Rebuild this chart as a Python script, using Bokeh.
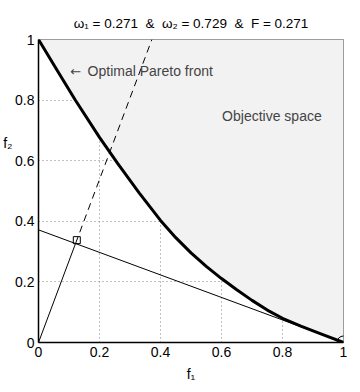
import numpy as np
from bokeh.plotting import figure
from bokeh.models import Range1d, FixedTicker, Title, LinearAxis, Label
from bokeh.embed import file_html
from bokeh.resources import INLINE

# ---- data ----
w1 = 0.271
w2 = 0.729
F = 0.271

front_f1 = [0.0, 0.06, 0.12, 0.2, 0.26, 0.33, 0.4, 0.45, 0.5, 0.55, 0.6, 0.65, 0.7, 0.75, 0.8, 0.86, 0.93, 1.0]
front_f2 = [1.0, 0.90, 0.801, 0.677, 0.59, 0.494, 0.403, 0.346, 0.296, 0.251, 0.211, 0.174, 0.139, 0.107, 0.08, 0.054, 0.027, 0.0]

tick_values = [0, 0.2, 0.4, 0.6, 0.8, 1]
tick_labels = ["0", "0.2", "0.4", "0.6", "0.8", "1"]

FONT = "Liberation Sans"
FS = "14px"
SP = "\u00a0\u00a0"

p = figure(width=352, height=384, output_backend="svg", toolbar_location=None,
           x_range=Range1d(0, 1), y_range=Range1d(0, 1),
           min_border_left=37, min_border_top=39, min_border_right=9, min_border_bottom=39)

p.title = Title(text=f"ω₁ = {w1:.3f}{SP}&{SP}ω₂ = {w2:.3f}{SP}&{SP}F = {F:.3f}",
                align="center", text_font=FONT, text_font_size="13.5px",
                text_font_style="normal", text_color="black", standoff=17)

p.background_fill_color = "white"
p.border_fill_color = "white"
p.outline_line_color = "#808080"
p.outline_line_width = 1

for ax in (p.xaxis[0], p.yaxis[0]):
    ax.ticker = FixedTicker(ticks=tick_values)
    ax.major_label_overrides = {v: l for v, l in zip(tick_values, tick_labels)}
    ax.minor_tick_line_color = None
    ax.major_tick_in = 0
    ax.major_tick_out = 0
    ax.axis_line_color = "black"
    ax.axis_line_width = 1.5
    ax.major_label_text_font = FONT
    ax.major_label_text_font_size = FS
    ax.major_label_text_color = "black"
    ax.major_label_standoff = 4

p.xaxis.axis_label = "f₁"
p.xaxis.axis_label_text_font = FONT
p.xaxis.axis_label_text_font_size = FS
p.xaxis.axis_label_text_font_style = "normal"
p.xaxis.axis_label_text_color = "black"
p.xaxis.axis_label_standoff = 6

# y label: an extra, otherwise empty left axis holding a horizontal label
# (trailing blank lines lift it above the middle, as in the reference)
ylab = LinearAxis(ticker=FixedTicker(ticks=[]),
                  axis_line_color=None, major_tick_line_color=None, minor_tick_line_color=None,
                  major_tick_out=0, major_tick_in=0, major_label_standoff=0,
                  axis_label="f₂" + "\n\u00a0" * 5, axis_label_text_font=FONT,
                  axis_label_text_font_size=FS, axis_label_text_font_style="normal",
                  axis_label_text_color="black", axis_label_standoff=0)
try:
    ylab.axis_label_orientation = "horizontal"
except Exception:
    pass
p.add_layout(ylab, "left")

for g in (p.xgrid[0], p.ygrid[0]):
    g.ticker = FixedTicker(ticks=tick_values[1:-1])
    g.grid_line_color = "#808080"
    g.grid_line_dash = "1 3"
    g.grid_line_width = 1

# objective space (above the front)
px = list(front_f1) + [1.0]
py = list(front_f2) + [1.0]
p.patch(px, py, fill_color="#f2f2f2", line_color=None)

# weighted-sum line  w1*f1 + w2*f2 = F
lx = np.array([0.0, 1.0])
ly = (F - w1 * lx) / w2
p.line(lx, ly, line_color="black", line_width=1)

# ray along weight vector
n2 = w1 ** 2 + w2 ** 2
foot = np.array([w1 * F / n2, w2 * F / n2])
top = np.array([w1 / w2, 1.0])
p.line([0, foot[0]], [0, foot[1]], line_color="black", line_width=1)
p.line([foot[0], top[0]], [foot[1], top[1]], line_color="black", line_width=1, line_dash="7 5")

# right angle marker
u = np.array([w1, w2]) / np.sqrt(n2)
sq = foot + 0.012 * u
p.scatter([sq[0]], [sq[1]], marker="square", size=7, fill_color=None,
          line_color="black", line_width=1)

# Pareto front
p.line(front_f1, front_f2, line_color="black", line_width=3, line_join="round")

# optimum
p.scatter([F / w1], [0.0], marker="circle", size=13, fill_color=None,
          line_color="black", line_width=1)

p.add_layout(Label(x=0.104, y=0.896, text="←", text_font="DejaVu Sans",
                   text_font_size="13px", text_baseline="middle", text_align="left"))
p.add_layout(Label(x=0.161, y=0.896, text="Optimal Pareto front", text_font=FONT,
                   text_font_size=FS, text_baseline="middle", text_align="left"))
p.add_layout(Label(x=0.602, y=0.746, text="Objective space", text_font=FONT,
                   text_font_size=FS, text_baseline="middle", text_align="left"))

open("out.html", "w").write(file_html(p, INLINE))
